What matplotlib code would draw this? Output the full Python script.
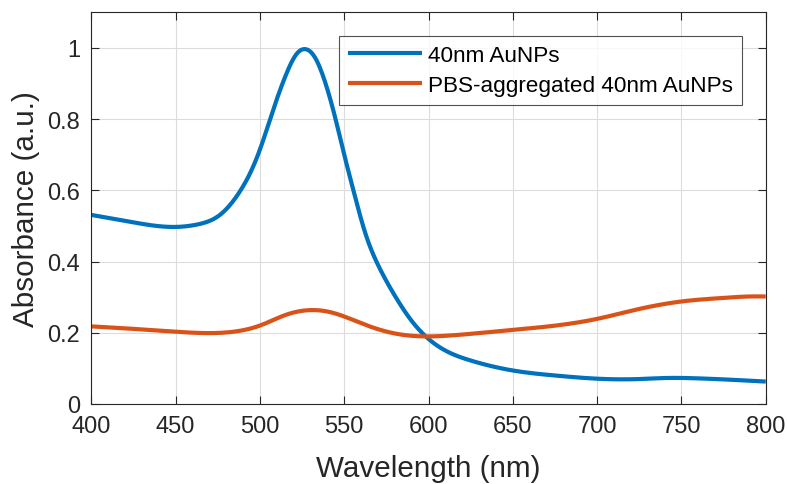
import matplotlib
matplotlib.use("Agg")
import matplotlib.pyplot as plt
import numpy as np

plt.rcParams['font.family'] = ['Liberation Sans', 'DejaVu Sans']

# Data
wl_blue = [400, 425, 450, 464, 476, 488, 496, 501, 508, 516, 522, 526, 533, 540,
           545, 549.5, 555.5, 561, 569, 580, 589, 596, 608, 625, 650, 675, 700, 725,
           740, 760, 780, 800]
abs_blue = [0.531, 0.51, 0.497, 0.505, 0.529, 0.595, 0.665, 0.726, 0.829, 0.932,
            0.989, 1.0, 0.975, 0.886, 0.80, 0.708, 0.60, 0.50, 0.40, 0.304, 0.239,
            0.20, 0.155, 0.122, 0.094, 0.08, 0.071, 0.070, 0.073, 0.072, 0.068, 0.063]

wl_orange = [400, 425, 450, 470, 490, 500, 515, 530, 542, 561, 581, 595, 612,
             625, 650, 675, 700, 725, 740, 750, 775, 790, 800]
abs_orange = [0.218, 0.211, 0.203, 0.199, 0.207, 0.22, 0.25, 0.264, 0.258, 0.225,
              0.197, 0.19, 0.192, 0.197, 0.208, 0.22, 0.239, 0.267, 0.281,
              0.288, 0.298, 0.302, 0.302]

labels = ['40nm AuNPs', 'PBS-aggregated 40nm AuNPs']
xticks = [400, 450, 500, 550, 600, 650, 700, 750, 800]
yticks = [0, 0.2, 0.4, 0.6, 0.8, 1]
ytick_labels = ['0', '0.2', '0.4', '0.6', '0.8', '1']


def smooth(x, y, n=801, sigma=2.5):
    """Natural cubic spline through the read points, lightly smoothed for drawing."""
    x = np.asarray(x, float); y = np.asarray(y, float)
    N = len(x); h = np.diff(x)
    A = np.zeros((N, N)); b = np.zeros(N)
    A[0, 0] = 1; A[-1, -1] = 1
    for i in range(1, N - 1):
        A[i, i-1] = h[i-1]; A[i, i] = 2*(h[i-1] + h[i]); A[i, i+1] = h[i]
        b[i] = 6*((y[i+1]-y[i])/h[i] - (y[i]-y[i-1])/h[i-1])
    M = np.linalg.solve(A, b)
    xs = np.linspace(x[0], x[-1], n)
    idx = np.clip(np.searchsorted(x, xs) - 1, 0, N - 2)
    xi, xi1, hi = x[idx], x[idx+1], h[idx]
    ys = (M[idx]*(xi1-xs)**3/(6*hi) + M[idx+1]*(xs-xi)**3/(6*hi)
          + (y[idx]/hi - M[idx]*hi/6)*(xi1-xs) + (y[idx+1]/hi - M[idx+1]*hi/6)*(xs-xi))
    step = xs[1] - xs[0]
    half = int(4*sigma/step)
    k = np.exp(-0.5*((np.arange(-half, half+1)*step)/sigma)**2); k /= k.sum()
    padded = np.concatenate([2*ys[0] - ys[half:0:-1], ys, 2*ys[-1] - ys[-2:-half-2:-1]])
    ys = np.convolve(padded, k, mode='valid')
    return xs, ys


fig = plt.figure(figsize=(7.87, 4.85), dpi=100)
ax = fig.add_axes([91.3/787, (485-405)/485, (765.7-91.3)/787, (405-13.3)/485])

tc = '#262626'
xb, yb = smooth(wl_blue, abs_blue)
xo, yo = smooth(wl_orange, abs_orange)
ax.plot(xb, yb, color='#0072BD', lw=3.0, label=labels[0], solid_capstyle='butt')
ax.plot(xo, yo, color='#D95319', lw=3.0, label=labels[1], solid_capstyle='butt')

ax.set_xlim(400, 800)
ax.set_ylim(0, 1.1)
ax.set_xticks(xticks)
ax.set_yticks(yticks)
ax.set_yticklabels(ytick_labels)
ax.grid(True, color='#dcdcdc', lw=0.8)
ax.set_axisbelow(True)
ax.tick_params(direction='in', top=True, right=True, length=6, width=0.8,
               labelsize=17, colors=tc, pad=8)
for s in ax.spines.values():
    s.set_color(tc)
    s.set_linewidth(0.8)
ax.set_xlabel('Wavelength (nm)', fontsize=21.3, color=tc, labelpad=12)
ax.set_ylabel('Absorbance (a.u.)', fontsize=21.3, color=tc, labelpad=5)

leg = ax.legend(loc='upper right', fontsize=16.2,
                frameon=True, fancybox=False, handlelength=3.3, handletextpad=0.25,
                borderpad=0.4, labelspacing=0.4, borderaxespad=0,
                bbox_to_anchor=((741.7-91.3)/(765.7-91.3), (405-37.3)/(405-13.3)))
leg.get_frame().set_edgecolor(tc)
leg.get_frame().set_linewidth(0.8)
for t in leg.get_texts():
    t.set_color('black')

fig.savefig('out.png', dpi=100)
